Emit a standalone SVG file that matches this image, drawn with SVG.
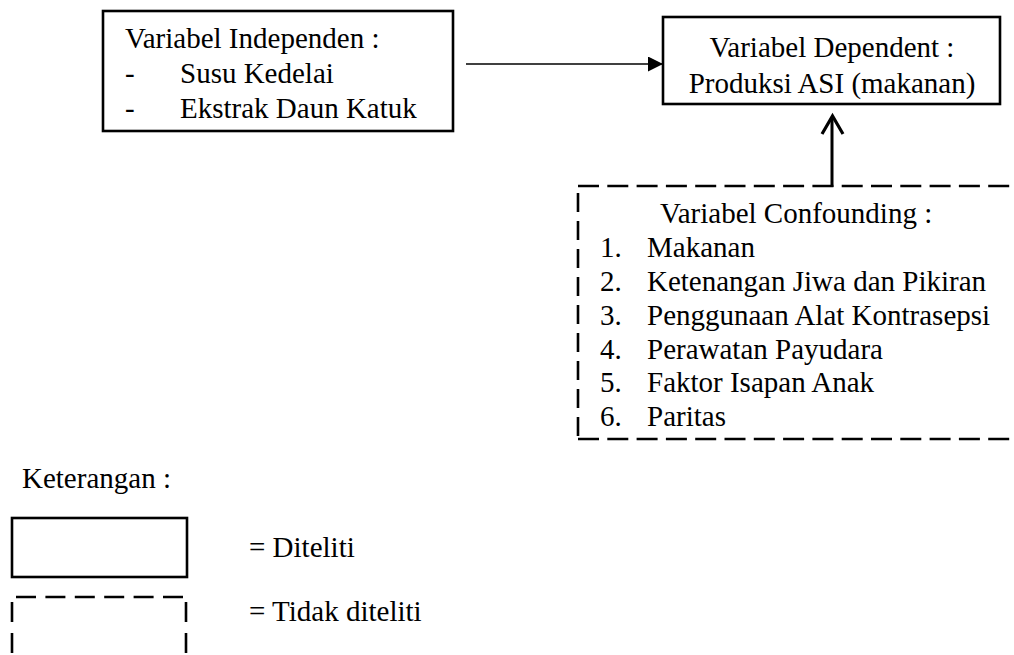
<svg xmlns="http://www.w3.org/2000/svg" width="1014" height="655" viewBox="0 0 1014 655">
  <style>
    text { font-family: "Liberation Serif", "Times New Roman", serif; font-size: 29px; fill: #000; }
    .box { fill: #fff; stroke: #000; stroke-width: 2.6; }
    .dash { fill: none; stroke: #000; stroke-width: 2.6; }
    .conn { fill: none; stroke: #000; }
  </style>
  <defs>
    <marker id="tri" markerWidth="16" markerHeight="16" refX="15" refY="7.5" orient="auto" markerUnits="userSpaceOnUse">
      <path d="M0,0 L15,7.5 L0,15 Z" fill="#000"/>
    </marker>
  </defs>
  <rect width="1014" height="655" fill="#fff"/>

  <g id="node-independen">
    <rect class="box" x="103" y="11" width="350" height="120"/>
    <text x="125" y="48">Variabel Independen :</text>
    <text x="125" y="83">-</text>
    <text x="180" y="83">Susu Kedelai</text>
    <text x="125" y="118">-</text>
    <text x="180" y="118">Ekstrak Daun Katuk</text>
  </g>

  <g id="node-dependent">
    <rect class="box" x="663" y="17" width="337" height="87"/>
    <text x="832" y="57" text-anchor="middle">Variabel Dependent :</text>
    <text x="832" y="93" text-anchor="middle">Produksi ASI (makanan)</text>
  </g>

  <g id="node-confounding">
    <path class="dash" d="M578,186 H1014" stroke-dasharray="21 8.3"/>
    <path class="dash" d="M578,193 V439" stroke-dasharray="19 9"/>
    <path class="dash" d="M578,439 H1014" stroke-dasharray="21 8.3"/>
    <text x="660" y="223">Variabel Confounding :</text>
    <text x="600" y="257">1.</text>
    <text x="647" y="257">Makanan</text>
    <text x="600" y="291">2.</text>
    <text x="647" y="291">Ketenangan Jiwa dan Pikiran</text>
    <text x="600" y="325">3.</text>
    <text x="647" y="325">Penggunaan Alat Kontrasepsi</text>
    <text x="600" y="359">4.</text>
    <text x="647" y="359">Perawatan Payudara</text>
    <text x="600" y="392">5.</text>
    <text x="647" y="392">Faktor Isapan Anak</text>
    <text x="600" y="426">6.</text>
    <text x="647" y="426">Paritas</text>
  </g>

  <g id="connectors">
    <line class="conn" x1="466" y1="64" x2="663" y2="64" stroke-width="1.6" marker-end="url(#tri)"/>
    <line class="conn" x1="832" y1="187" x2="832" y2="117" stroke-width="3"/>
    <path class="conn" d="M822,134 L832.5,116 L843,134" stroke-width="3.2" stroke-linejoin="miter"/>
  </g>

  <g id="legend">
    <text x="22" y="488">Keterangan :</text>
    <g id="legend-diteliti">
      <rect class="box" x="12" y="518" width="175" height="59"/>
      <text x="249" y="557">= Diteliti</text>
    </g>
    <g id="legend-tidak-diteliti">
      <path class="dash" d="M16,597 H186" stroke-dasharray="20 9.4"/>
      <path class="dash" d="M12,602 V655" stroke-dasharray="20 11"/>
      <path class="dash" d="M186,602 V655" stroke-dasharray="20 11"/>
      <text x="249" y="621">= Tidak diteliti</text>
    </g>
  </g>
</svg>
